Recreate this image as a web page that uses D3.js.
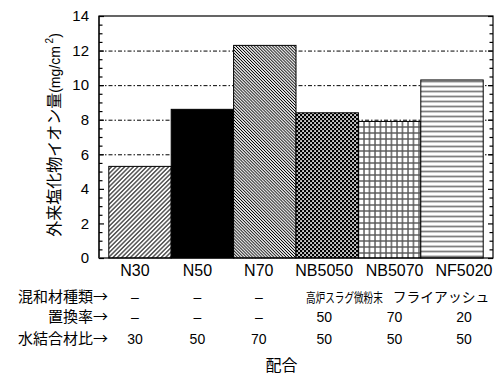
<!DOCTYPE html>
<html>
<head>
<meta charset="utf-8">
<script src="https://cdn.jsdelivr.net/npm/d3@7"></script>
<style>
  html, body { margin: 0; padding: 0; background: #fff; }
  svg { display: block; }
</style>
</head>
<body>
<svg id="chart" width="497" height="376"></svg>
<script>
// 配合ごとの外来塩化物イオン量
const categories = ["N30", "N50", "N70", "NB5050", "NB5070", "NF5020"];
const chlorideValues = [5.3, 8.6, 12.3, 8.4, 7.9, 10.3];
const yTickValues = [0, 2, 4, 6, 8, 10, 12, 14];
const gridValues = [6, 8, 10, 12];

// 配合表（混和材種類・置換率・水結合材比）
const rowLabels = ["混和材種類→", "置換率→", "水結合材比→"];
const admixtureLabels = ["–", "–", "–", "高炉スラグ微粉末", "フライアッシュ"];
const admixtureSpans = [[0, 0], [1, 1], [2, 2], [3, 4], [5, 5]];
const replacementRates = ["–", "–", "–", "50", "70", "20"];
const waterBinderRatios = ["30", "50", "70", "50", "50", "50"];
const yTitle = "外来塩化物イオン量";
const xTitle = "配合";

// layout
const plot = { left: 99, right: 493, top: 16, bottom: 258 };
const labelNudge = [-5, -5, -6, -3, 5, 12];
const admixNudge = [0, 0, 0, -15, -23];
const admixScaleX = [1, 1, 1, 0.74, 1];
const LATIN = "'Liberation Sans', Arial, sans-serif";
const CJK = "'Noto Sans CJK JP', 'Liberation Sans', sans-serif";

const svg = d3.select("#chart");
svg.append("rect").attr("width", 497).attr("height", 376).attr("fill", "#fff");

const x = d3.scaleBand().domain(categories).range([plot.left, plot.right])
  .paddingInner(0).paddingOuter(0.157);
const y = d3.scaleLinear().domain([0, 14]).range([plot.bottom, plot.top]);

// fill patterns for each bar
const defs = svg.append("defs");
function hatch(id, spacing, angle, width, color) {
  const p = defs.append("pattern").attr("id", id).attr("patternUnits", "userSpaceOnUse")
    .attr("width", spacing).attr("height", spacing)
    .attr("patternTransform", `rotate(${angle})`);
  p.append("rect").attr("width", spacing).attr("height", spacing).attr("fill", "#fff");
  p.append("line").attr("x1", spacing / 2).attr("x2", spacing / 2)
    .attr("y1", 0).attr("y2", spacing).attr("stroke", color).attr("stroke-width", width);
}
hatch("pat-n30", 3.1, 45, 1.0, "#000");
hatch("pat-n70", 2.15, -45, 0.9, "#000");

{
  const p = defs.append("pattern").attr("id", "pat-nb5050").attr("patternUnits", "userSpaceOnUse")
    .attr("width", 4).attr("height", 4);
  p.append("rect").attr("width", 4).attr("height", 4).attr("fill", "#000");
  p.append("rect").attr("x", 0.2).attr("y", 0.2).attr("width", 1.7).attr("height", 1.7).attr("fill", "#fff");
  p.append("rect").attr("x", 2.2).attr("y", 2.2).attr("width", 1.7).attr("height", 1.7).attr("fill", "#fff");
}
{
  const p = defs.append("pattern").attr("id", "pat-nb5070").attr("patternUnits", "userSpaceOnUse")
    .attr("width", 5.5).attr("height", 6);
  p.append("rect").attr("width", 5.5).attr("height", 6).attr("fill", "#fff");
  p.append("line").attr("x1", 1).attr("x2", 1).attr("y1", 0).attr("y2", 6)
    .attr("stroke", "#555").attr("stroke-width", 1.4);
  p.append("line").attr("x1", 0).attr("x2", 5.5).attr("y1", 1).attr("y2", 1)
    .attr("stroke", "#555").attr("stroke-width", 1.4);
}
{
  const p = defs.append("pattern").attr("id", "pat-nf5020").attr("patternUnits", "userSpaceOnUse")
    .attr("width", 5).attr("height", 5);
  p.append("rect").attr("width", 5).attr("height", 5).attr("fill", "#fff");
  p.append("line").attr("x1", 0).attr("x2", 5).attr("y1", 1.5).attr("y2", 1.5)
    .attr("stroke", "#808080").attr("stroke-width", 1.8);
}
const fills = ["url(#pat-n30)", "#000", "url(#pat-n70)", "url(#pat-nb5050)", "url(#pat-nb5070)", "url(#pat-nf5020)"];

// dashed grid lines
svg.append("g").selectAll("line").data(gridValues).join("line")
  .attr("x1", plot.left).attr("x2", plot.right)
  .attr("y1", d => y(d) + 0.5).attr("y2", d => y(d) + 0.5)
  .attr("stroke", "#000").attr("stroke-width", 1)
  .attr("stroke-dasharray", "4,2,1.5,2");

// bars
svg.append("g").selectAll("rect").data(chlorideValues).join("rect")
  .attr("x", (d, i) => x(categories[i]))
  .attr("y", d => y(d))
  .attr("width", x.bandwidth())
  .attr("height", d => y(0) - y(d))
  .attr("fill", (d, i) => fills[i])
  .attr("stroke", "#000").attr("stroke-width", 1);

// frame
svg.append("rect").attr("x", plot.left).attr("y", plot.top)
  .attr("width", plot.right - plot.left).attr("height", plot.bottom - plot.top)
  .attr("fill", "none").attr("stroke", "#000").attr("stroke-width", 1.2);
svg.append("line").attr("x1", plot.left).attr("x2", plot.left)
  .attr("y1", plot.top).attr("y2", plot.bottom)
  .attr("stroke", "#333").attr("stroke-width", 2);

// y axes: major and minor ticks pointing inward on both sides
const minorValues = d3.range(0, 14.001, 0.5).filter(v => !yTickValues.includes(v));
const leftMajor = svg.append("g").attr("transform", `translate(${plot.left},0)`)
  .call(d3.axisLeft(y).tickValues(yTickValues).tickSize(-5).tickPadding(10).tickFormat(d3.format("d")));
const leftMinor = svg.append("g").attr("transform", `translate(${plot.left},0)`)
  .call(d3.axisLeft(y).tickValues(minorValues).tickSize(-3.5).tickFormat(""));
const rightMajor = svg.append("g").attr("transform", `translate(${plot.right},0)`)
  .call(d3.axisRight(y).tickValues(yTickValues).tickSize(-5).tickFormat(""));
const rightMinor = svg.append("g").attr("transform", `translate(${plot.right},0)`)
  .call(d3.axisRight(y).tickValues(minorValues).tickSize(-3.5).tickFormat(""));
[leftMajor, leftMinor, rightMajor, rightMinor].forEach(g => {
  g.select(".domain").remove();
  g.selectAll(".tick line").attr("stroke", "#000").attr("stroke-width", 1.2);
});
leftMajor.selectAll(".tick text")
  .attr("font-family", LATIN).attr("font-size", 15).attr("fill", "#000");

// category labels
const colX = i => x(categories[i]) + x.bandwidth() / 2 + labelNudge[i];
svg.append("g").selectAll("text").data(categories).join("text")
  .attr("x", (d, i) => colX(i)).attr("y", 276)
  .attr("text-anchor", "middle")
  .attr("font-family", LATIN).attr("font-size", 16).attr("fill", "#000")
  .text(d => d);

// composition table
const rowY = [302, 322, 344];
svg.append("g").selectAll("text").data(rowLabels).join("text")
  .attr("x", 108).attr("y", (d, i) => rowY[i])
  .attr("text-anchor", "end")
  .attr("font-family", CJK).attr("font-size", 15).attr("fill", "#000")
  .text(d => d);

svg.append("g").selectAll("text").data(admixtureLabels).join("text")
  .each(function (d, i) {
    const [a, b] = admixtureSpans[i];
    const cx = (colX(a) + colX(b)) / 2 + admixNudge[i];
    const t = d3.select(this)
      .attr("transform", `translate(${cx},${rowY[0]}) scale(${admixScaleX[i]},1)`)
      .attr("text-anchor", "middle").attr("fill", "#000").text(d);
    if (d === "–") t.attr("font-family", LATIN).attr("font-size", 14);
    else t.attr("font-family", CJK).attr("font-size", d === "フライアッシュ" ? 13.8 : 13);
  });

[replacementRates, waterBinderRatios].forEach((row, r) => {
  svg.append("g").selectAll("text").data(row).join("text")
    .attr("x", (d, i) => colX(i)).attr("y", rowY[r + 1])
    .attr("text-anchor", "middle")
    .attr("font-family", LATIN).attr("font-size", 14).attr("fill", "#000")
    .text(d => d);
});

// axis titles
svg.append("text").attr("x", 281.5).attr("y", 371)
  .attr("text-anchor", "middle")
  .attr("font-family", CJK).attr("font-size", 16).attr("fill", "#000")
  .text(xTitle);

const yt = svg.append("text")
  .attr("transform", `translate(60,${135}) rotate(-90)`)
  .attr("text-anchor", "middle")
  .attr("font-family", CJK).attr("font-size", 16).attr("fill", "#000");
yt.append("tspan").text(yTitle);
yt.append("tspan").attr("font-family", LATIN).attr("font-size", 14).text("(mg/cm");
yt.append("tspan").attr("font-family", LATIN).attr("font-size", 10).attr("dy", -7).text(" 2");
yt.append("tspan").attr("font-family", LATIN).attr("font-size", 14).attr("dy", 7).text(")");
</script>
</body>
</html>
